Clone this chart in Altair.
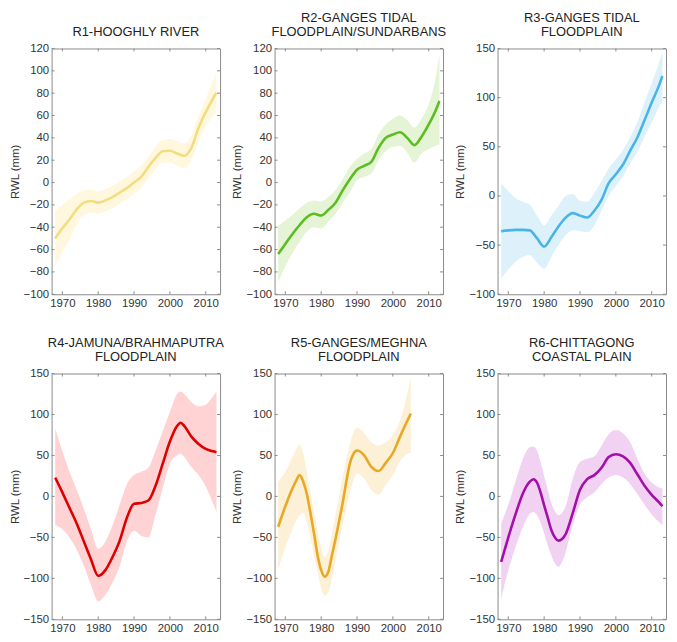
import altair as alt
import pandas as pd

FONT = "Liberation Sans"

X_TICKS = [1970, 1980, 1990, 2000, 2010]
Y_TICKS_A = [-100, -80, -60, -40, -20, 0, 20, 40, 60, 80, 100, 120]
Y_TICKS_B = [-100, -50, 0, 50, 100, 150]
Y_TICKS_C = [-150, -100, -50, 0, 50, 100, 150]

YEARS_A = [1968, 1970, 1972, 1974, 1976, 1978, 1980, 1982, 1984, 1986, 1988, 1990,
           1992, 1994, 1996, 1998, 2000, 2002, 2004, 2006, 2008, 2010, 2012, 2013]

R1_MEAN = [-50, -41, -33, -24, -18, -16.5, -18, -16, -13, -9, -5, 0,
           5, 14, 22, 28, 28.5, 26, 24, 31, 49, 63, 75, 80.5]
R1_LO = [-75, -62, -51, -38, -29, -27, -28, -26, -23, -19, -15, -10,
         -5, 4, 12, 18, 18, 15, 13, 20, 37, 50, 60, 63]
R1_HI = [-25, -20, -15, -10, -7, -6, -8, -6, -3, 1, 5, 10,
         15, 23, 32, 38, 39, 37, 35, 42, 60, 75, 91, 98]

R2_MEAN = [-64, -55, -46, -38, -31, -28, -29.5, -24.5, -18, -7, 3, 11.5,
           15, 18.5, 31, 40, 43, 45, 40, 33.5, 41, 52, 65, 73]
R2_LO = [-89, -75, -63, -53, -44, -40, -41, -35, -28, -18, -9, 2,
         5, 8, 20, 28, 32, 33, 27, 18, 26, 30, 33, 34]
R2_HI = [-39, -34, -29, -23, -18, -16, -17, -13, -7, 3, 14, 21,
         26, 30, 43, 52, 57, 60, 56, 49, 57, 70, 95, 115]

R3_MEAN = [-36, -35, -34.5, -34.5, -35, -43, -51.5, -42, -31, -22, -17.5, -20,
           -22, -15, -4, 13, 22, 32, 46, 59.5, 77, 95, 112, 122]
R3_LO = [-84, -75, -67, -62, -60, -68, -74, -62, -50, -40, -35, -36,
         -37, -30, -15, 0, 10, 20, 33, 45, 60, 75, 90, 96]
R3_HI = [13, 5, -2, -6, -9, -20, -30, -20, -10, 0, 2, -5,
         -6, 3, 15, 28, 37, 47, 60, 75, 95, 115, 135, 147]

YEARS_R4 = [1968, 1970, 1972, 1974, 1976, 1978, 1980, 1982, 1984, 1986, 1988, 1990,
            1992, 1994, 1996, 1998, 2000, 2002, 2003, 2004, 2006, 2008, 2010, 2012, 2013]
R4_MEAN = [23, 5, -14, -33, -55, -77, -97, -90, -74, -54, -26, -9,
           -8, -5, 13, 40, 67, 86, 90, 86, 73, 64, 58, 55, 54]
R4_LO = [-35, -40, -50, -65, -85, -108, -128, -120, -105, -85, -55, -42,
         -48, -50, -22, 10, 40, 50, 52, 48, 36, 26, 12, -8, -19]
R4_HI = [83, 55, 30, 8, -15, -40, -64, -55, -35, -10, 15, 26,
         30, 35, 56, 80, 103, 125, 128, 125, 115, 110, 112, 122, 128]

YEARS_R5 = [1968, 1970, 1972, 1973, 1974, 1975, 1976, 1977, 1978, 1979, 1980, 1981,
            1982, 1983, 1984, 1985, 1986, 1987, 1988, 1989, 1990, 1992, 1994, 1996,
            1998, 2000, 2002, 2004, 2005]
R5_MEAN = [-37, -12, 10, 19, 26, 18, 3, -20, -45, -72, -90, -98,
           -92, -72, -52, -30, -8, 18, 40, 52, 56, 50, 36, 31,
           41, 53, 73, 92, 101]
R5_LO = [-90, -62, -40, -30, -23, -20, -32, -50, -72, -92, -112, -121,
         -117, -100, -78, -55, -35, -15, 4, 20, 28, 22, 8, 2,
         14, 26, 43, 52, 54]
R5_HI = [18, 30, 48, 57, 63, 52, 30, 5, -18, -42, -62, -74,
         -66, -45, -22, 0, 24, 45, 63, 78, 84, 77, 66, 62,
         66, 75, 93, 125, 146]

YEARS_R6 = [1968, 1970, 1972, 1974, 1975, 1976, 1977, 1978, 1979, 1980, 1981, 1982,
            1983, 1984, 1985, 1986, 1988, 1990, 1992, 1994, 1996, 1998, 2000, 2002,
            2004, 2006, 2008, 2010, 2012, 2013]
R6_MEAN = [-80, -50, -22, 3, 12, 18, 21, 17, 5, -11, -26, -41,
           -50, -54, -52, -46, -20, 8, 21, 26, 35, 48, 51.5, 49,
           41, 27, 13, 2, -7, -12]
R6_LO = [-125, -90, -62, -38, -28, -21, -19, -23, -32, -45, -60, -72,
         -82, -86, -80, -68, -35, -10, -1, 5, 15, 23, 26, 23,
         15, 3, -10, -22, -31, -35]
R6_HI = [-33, -10, 18, 45, 55, 60, 61, 56, 42, 25, 8, -8,
         -18, -23, -20, -12, 22, 42, 46, 49, 62, 76, 81, 77,
         66, 46, 28, 17, 11, 10]

TITLES = [
    ["R1-HOOGHLY RIVER"],
    ["R2-GANGES TIDAL", "FLOODPLAIN/SUNDARBANS"],
    ["R3-GANGES TIDAL", "FLOODPLAIN"],
    ["R4-JAMUNA/BRAHMAPUTRA", "FLOODPLAIN"],
    ["R5-GANGES/MEGHNA", "FLOODPLAIN"],
    ["R6-CHITTAGONG", "COASTAL PLAIN"],
]

SERIES = [
    (YEARS_A, R1_MEAN, R1_LO, R1_HI),
    (YEARS_A, R2_MEAN, R2_LO, R2_HI),
    (YEARS_A, R3_MEAN, R3_LO, R3_HI),
    (YEARS_R4, R4_MEAN, R4_LO, R4_HI),
    (YEARS_R5, R5_MEAN, R5_LO, R5_HI),
    (YEARS_R6, R6_MEAN, R6_LO, R6_HI),
]

# styles (kept apart from the data)
LINE_COLORS = ["#F4DC80", "#5BBD22", "#4AB4E6", "#DD0000", "#E9A823", "#A30FA8"]
BAND_COLORS = ["#FFF8DE", "#E4F4D5", "#DDF1FB", "#FFD3D3", "#FCF0D6", "#F2D2F2"]
Y_DOMAINS = [(-100, 120), (-100, 120), (-100, 150), (-150, 150), (-150, 150), (-150, 150)]
Y_TICKS = [Y_TICKS_A, Y_TICKS_A, Y_TICKS_B, Y_TICKS_C, Y_TICKS_C, Y_TICKS_C]

W, H = 170, 248
FRAME = "#8a8a8a"
TICK_LEN = 3


def panel(i):
    years, mean, lo, hi = SERIES[i]
    df = pd.DataFrame({"year": years, "mean": mean, "lo": lo, "hi": hi})
    xs = alt.Scale(domain=[1967, 2014], nice=False, zero=False)
    ys = alt.Scale(domain=list(Y_DOMAINS[i]), nice=False, zero=False)
    xax = alt.Axis(values=X_TICKS, format="d", ticks=False, domain=False, grid=False,
                   labelPadding=3, labelOverlap=False, title=None)
    yax = alt.Axis(values=Y_TICKS[i], ticks=False, domain=False, grid=False,
                   labelPadding=3, titlePadding=3, labelOverlap=False,
                   title="RWL (mm)")

    band = alt.Chart(df).mark_area(color=BAND_COLORS[i], opacity=1,
                                   interpolate="monotone").encode(
        x=alt.X("year:Q", scale=xs, axis=xax),
        y=alt.Y("lo:Q", scale=ys, axis=yax),
        y2="hi:Q",
    )
    line = alt.Chart(df).mark_line(color=LINE_COLORS[i], strokeWidth=2.6,
                                   interpolate="monotone").encode(
        x=alt.X("year:Q", scale=xs, axis=xax),
        y=alt.Y("mean:Q", scale=ys, axis=yax),
    )
    xt = pd.DataFrame({"t": X_TICKS})
    yt = pd.DataFrame({"t": Y_TICKS[i]})
    tb = alt.Chart(xt).mark_rule(color=FRAME, strokeWidth=1).encode(
        x=alt.X("t:Q", scale=xs, axis=xax), y=alt.value(H), y2=alt.value(H - TICK_LEN))
    tt = alt.Chart(xt).mark_rule(color=FRAME, strokeWidth=1).encode(
        x=alt.X("t:Q", scale=xs, axis=xax), y=alt.value(0), y2=alt.value(TICK_LEN))
    tl = alt.Chart(yt).mark_rule(color=FRAME, strokeWidth=1).encode(
        y=alt.Y("t:Q", scale=ys, axis=yax), x=alt.value(0), x2=alt.value(TICK_LEN))
    tr = alt.Chart(yt).mark_rule(color=FRAME, strokeWidth=1).encode(
        y=alt.Y("t:Q", scale=ys, axis=yax), x=alt.value(W), x2=alt.value(W - TICK_LEN))

    return alt.layer(band, line, tb, tt, tl, tr).properties(
        width=W, height=H,
        title=alt.TitleParams(text=TITLES[i], fontSize=13, font=FONT,
                              fontWeight="normal", color="#222222", offset=4,
                              anchor="middle", lineHeight=14),
    )


chart = alt.concat(*[panel(i) for i in range(6)], columns=3,
                   spacing={"row": 80, "column": 55}, bounds="flush").properties(
    padding=0
).configure_view(
    stroke=FRAME, strokeWidth=1
).configure_axis(
    labelFont=FONT, titleFont=FONT, labelFontSize=11.5, titleFontSize=11.5,
    labelColor="#333333", titleColor="#333333", titleFontWeight="normal",
    labelOverlap=False, labelBound=False, labelFlush=False
)

chart.save("out.html", embed_options={"renderer": "svg", "actions": False})
